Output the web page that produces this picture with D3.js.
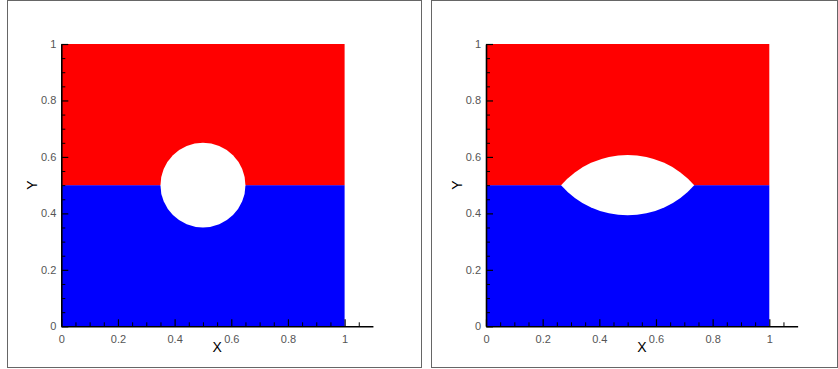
<!DOCTYPE html>
<html>
<head>
<meta charset="utf-8">
<script src="https://cdn.jsdelivr.net/npm/d3@7"></script>
<style>
  body { margin: 0; background: #fff; }
  svg { display: block; }
  .tick text { font-family: "Liberation Sans", Arial, sans-serif; font-size: 11px; fill: #555; }
</style>
</head>
<body>
<script>
// phase bands (y ranges) and their colours
var bandY = [[0, 0.5], [0.5, 1]];
var bandColor = ["#0000ff", "#ff0000"];

// bubble shapes
var circleCenter = [0.5, 0.5], circleRadius = 0.15;
var lensX = [0.265, 0.735], lensY = 0.5, lensHalfHeight = 0.107;

// ticks
var majorTicks = [0, 0.2, 0.4, 0.6, 0.8, 1];
var xMinorTicks = [0.05, 0.1, 0.15, 0.25, 0.3, 0.35, 0.45, 0.5, 0.55, 0.65, 0.7, 0.75, 0.85, 0.9, 0.95, 1.05];
var yMinorTicks = [0.05, 0.1, 0.15, 0.25, 0.3, 0.35, 0.45, 0.5, 0.55, 0.65, 0.7, 0.75, 0.85, 0.9, 0.95];

var panels = [
  {frame: [7.5, 421.5], x0: 61.3, shape: "circle"},
  {frame: [431.5, 837.5], x0: 486, shape: "lens"}
];

var width = 838, height = 369;
var svg = d3.select("body").append("svg").attr("width", width).attr("height", height);

panels.forEach(function (p) {
  var g = svg.append("g");

  g.append("rect")
    .attr("x", p.frame[0]).attr("y", 0.5)
    .attr("width", p.frame[1] - p.frame[0]).attr("height", 367)
    .attr("fill", "none").attr("stroke", "#666").attr("stroke-width", 1);

  var x = d3.scaleLinear().domain([0, 1.1]).range([p.x0, p.x0 + 283.3 * 1.1]);
  var y = d3.scaleLinear().domain([0, 1]).range([326.3, 44]);

  g.selectAll("rect.band")
    .data(bandY)
    .join("rect")
    .attr("class", "band")
    .attr("x", x(0))
    .attr("y", d => y(d[1]))
    .attr("width", x(1) - x(0))
    .attr("height", d => y(d[0]) - y(d[1]))
    .attr("fill", (d, i) => bandColor[i]);

  var kx = x(1) - x(0), ky = y(0) - y(1);
  if (p.shape == "circle") {
    g.append("ellipse")
      .attr("cx", x(circleCenter[0])).attr("cy", y(circleCenter[1]))
      .attr("rx", circleRadius * kx).attr("ry", circleRadius * ky)
      .attr("fill", "#fff");
  } else {
    var a = (lensX[1] - lensX[0]) / 2, h = lensHalfHeight;
    var R = (a * a + h * h) / (2 * h);
    var path = "M" + x(lensX[0]) + "," + y(lensY) +
      "A" + (R * kx) + "," + (R * ky) + " 0 0 1 " + x(lensX[1]) + "," + y(lensY) +
      "A" + (R * kx) + "," + (R * ky) + " 0 0 1 " + x(lensX[0]) + "," + y(lensY) + "Z";
    g.append("path").attr("d", path).attr("fill", "#fff");
  }

  // minor ticks
  g.append("g")
    .attr("transform", "translate(0," + y(0) + ")")
    .call(d3.axisBottom(x).tickValues(xMinorTicks).tickSize(-4).tickFormat(""))
    .call(s => s.select(".domain").remove());
  g.append("g")
    .attr("transform", "translate(" + x(0) + ",0)")
    .call(d3.axisLeft(y).tickValues(yMinorTicks).tickSize(-4).tickFormat(""))
    .call(s => s.select(".domain").remove());

  // major axes
  var xa = g.append("g")
    .attr("transform", "translate(0," + y(0) + ")")
    .call(d3.axisBottom(x).tickValues(majorTicks).tickSize(-7).tickSizeOuter(0).tickPadding(9).tickFormat(d3.format("")));
  xa.select(".domain").attr("stroke-width", 1.6);
  xa.selectAll(".tick line").attr("stroke-width", 1.2);

  var ya = g.append("g")
    .attr("transform", "translate(" + x(0) + ",0)")
    .call(d3.axisLeft(y).tickValues(majorTicks).tickSize(-7).tickSizeOuter(0).tickPadding(5).tickFormat(d3.format("")));
  ya.select(".domain").attr("stroke-width", 1.6);
  ya.selectAll(".tick line").attr("stroke-width", 1.2);

  g.selectAll(".tick line").attr("stroke", "#000");

  g.append("text")
    .attr("x", x(0.55)).attr("y", 352)
    .attr("text-anchor", "middle")
    .style("font-family", "Liberation Sans, Arial, sans-serif")
    .style("font-size", "14px")
    .text("X");

  g.append("text")
    .attr("transform", "translate(" + (x(0) - 24.5) + "," + y(0.5) + ") rotate(-90)")
    .attr("text-anchor", "middle")
    .style("font-family", "Liberation Sans, Arial, sans-serif")
    .style("font-size", "14px")
    .text("Y");
});
</script>
</body>
</html>
